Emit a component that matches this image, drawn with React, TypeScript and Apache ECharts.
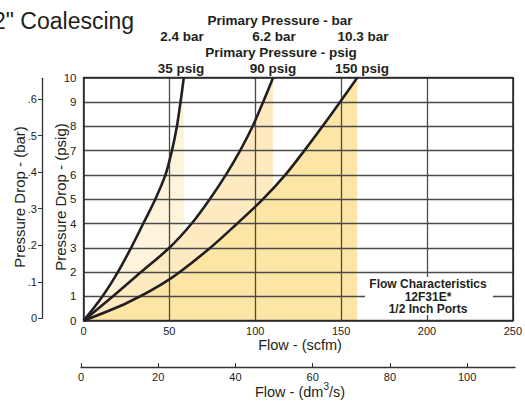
import React, { useEffect, useRef } from "react";
import * as echarts from "echarts";

// Flow (scfm) vs pressure drop (psig) for each primary pressure
const flow35 = [0, 11, 20, 27.7, 34.8, 41.8, 47.7, 51.5, 54.4, 56.5, 58.4];
const drop35 = [0, 1, 2, 3, 4, 5, 6, 7, 8, 9, 10];
const flow90 = [0, 17, 33.5, 50, 63, 73.5, 82.9, 91.2, 98.5, 104.6, 110.4];
const drop90 = [0, 1, 2, 3, 4, 5, 6, 7, 8, 9, 10];
const flow150 = [0, 25.8, 50, 73, 89.5, 104.5, 117.5, 128.6, 139.2, 149.4, 159.4];
const drop150 = [0, 0.75, 1.7, 2.95, 4, 5, 6, 7, 8, 9, 10];

const barLabels = ["2.4 bar", "6.2 bar", "10.3 bar"];
const psigLabels = ["35 psig", "90 psig", "150 psig"];
const barTicks = [0, 0.1, 0.2, 0.3, 0.4, 0.5, 0.6];
const dm3Ticks = [0, 20, 40, 60, 80, 100];
const boxLines = ["Flow Characteristics", "12F31E*", "1/2 Inch Ports"];

const FONT = "'Liberation Sans', Arial, Helvetica, sans-serif";
const INK = "#231f20";
const GRIDC = "#4a4a4a";

export default function App() {
  const ref = useRef<HTMLDivElement>(null);
  useEffect(() => {
    if (!ref.current) return;
    const chart = echarts.init(ref.current, undefined, { renderer: "svg" });
    const pairs = (xs: number[], ys: number[]) => xs.map((x, i) => [x, ys[i]]);
    const d35 = pairs(flow35, drop35);
    const d90 = pairs(flow90, drop90);
    const d150 = pairs(flow150, drop150);
    const fills = ["#fef4dc", "#fdeac0", "#fde5a6"];
    const datas = [d35, d90, d150];

    const areaSeries = datas.map((d, i) => ({
      type: "line",
      xAxisIndex: 0,
      yAxisIndex: 0,
      data: d,
      smooth: 0.3,
      symbol: "none",
      lineStyle: { width: 0 },
      areaStyle: { color: fills[i], opacity: 1 },
      z: 1,
      silent: true,
    }));
    const lineSeries = datas.map((d) => ({
      type: "line",
      xAxisIndex: 0,
      yAxisIndex: 0,
      data: d,
      smooth: 0.3,
      symbol: "none",
      lineStyle: { width: 2.6, color: INK },
      z: 5,
      silent: true,
    }));

    const headerX = [182, 274, 363];
    const headerTexts: any[] = [
      { type: "text", x: 280, y: 20, style: { text: "Primary Pressure - bar", font: `bold 13.5px ${FONT}`, fill: INK, align: "center", verticalAlign: "middle" } },
      { type: "text", x: 281, y: 52, style: { text: "Primary Pressure - psig", font: `bold 13.5px ${FONT}`, fill: INK, align: "center", verticalAlign: "middle" } },
    ];
    barLabels.forEach((t, i) =>
      headerTexts.push({ type: "text", x: headerX[i], y: 36, style: { text: t, font: `bold 13.5px ${FONT}`, fill: INK, align: "center", verticalAlign: "middle" } })
    );
    psigLabels.forEach((t, i) =>
      headerTexts.push({ type: "text", x: headerX[i] - 1, y: 68, style: { text: t, font: `bold 13.5px ${FONT}`, fill: INK, align: "center", verticalAlign: "middle" } })
    );

    chart.setOption({
      animation: false,
      textStyle: { fontFamily: FONT },
      grid: [
        { left: 83.5, right: 11, top: 77.7, bottom: 83.3 },
        { left: 81, right: 10, top: 366, height: 1 },
        { left: 42, width: 1, top: 78.3, bottom: 85.7 },
      ],
      xAxis: [
        {
          type: "value", gridIndex: 0, min: 0, max: 250, interval: 50, z: 3,
          axisLine: { show: true, lineStyle: { color: "#222", width: 1.5 } },
          axisTick: { show: false },
          axisLabel: { fontSize: 11, color: "#222", margin: 5 },
          splitLine: { show: true, lineStyle: { color: GRIDC, width: 1.3 } },
        },
        {
          type: "value", gridIndex: 0, position: "top", min: 0, max: 250, z: 3,
          axisLine: { show: true, onZero: false, lineStyle: { color: "#222", width: 1.5 } },
          axisTick: { show: false }, axisLabel: { show: false }, splitLine: { show: false },
        },
        {
          type: "value", gridIndex: 1, min: 0, max: 112.4,
          axisLine: { show: true, onZero: false, lineStyle: { color: "#333", width: 1.3 } },
          axisTick: { show: true, inside: true, length: 4, lineStyle: { color: "#333" }, customValues: dm3Ticks },
          axisLabel: { fontSize: 11, color: "#222", margin: 4, customValues: dm3Ticks },
          splitLine: { show: false },
        },
        { type: "value", gridIndex: 2, show: false, min: 0, max: 1 },
      ],
      yAxis: [
        {
          type: "value", gridIndex: 0, min: 0, max: 10, interval: 1, z: 3,
          axisLine: { show: true, lineStyle: { color: "#222", width: 1.5 } },
          axisTick: { show: false },
          axisLabel: { fontSize: 11.5, color: "#222", margin: 7 },
          splitLine: { show: true, lineStyle: { color: GRIDC, width: 1.3 } },
        },
        {
          type: "value", gridIndex: 0, position: "right", min: 0, max: 10, z: 3,
          axisLine: { show: true, onZero: false, lineStyle: { color: "#222", width: 1.5 } },
          axisTick: { show: false }, axisLabel: { show: false }, splitLine: { show: false },
        },
        { type: "value", gridIndex: 1, show: false, min: 0, max: 1 },
        {
          type: "value", gridIndex: 2, position: "left", min: 0, max: 0.657,
          axisLine: { show: true, onZero: false, lineStyle: { color: "#333", width: 1.3 } },
          axisTick: { show: true, length: 4, lineStyle: { color: "#333" }, customValues: barTicks },
          axisLabel: {
            fontSize: 11, color: "#222", margin: 5, customValues: barTicks,
            formatter: (v: number) => (v === 0 ? "0" : "." + Math.round(v * 10)),
          },
          splitLine: { show: false },
        },
      ],
      series: [...areaSeries, ...lineSeries],
      graphic: [
        { type: "text", x: -7, y: 21, z: 100, style: { text: '2" Coalescing', font: `23px ${FONT}`, fill: INK, align: "left", verticalAlign: "middle" } },
        ...headerTexts.map((t) => ({ ...t, z: 100 })),
        { type: "rect", z: 100, shape: { x: 365, y: 277, width: 128, height: 38 }, style: { fill: "#fff" } },
        { type: "text", x: 428, y: 296.5, z: 101, style: { text: boxLines.join("\n"), font: `bold 12px ${FONT}`, fill: INK, align: "center", verticalAlign: "middle", lineHeight: 12.5 } },
        { type: "text", x: 300, y: 345, z: 100, style: { text: "Flow - (scfm)", font: `14.5px ${FONT}`, fill: INK, align: "center", verticalAlign: "middle" } },
        {
          type: "text", x: 300, y: 390, z: 100,
          style: {
            text: "{a|Flow - (dm}{s|3}{a|/s)}",
            rich: {
              a: { font: `14.5px ${FONT}`, fill: INK, verticalAlign: "bottom", lineHeight: 18 },
              s: { font: `10px ${FONT}`, fill: INK, verticalAlign: "top", lineHeight: 10 },
            },
            align: "center", verticalAlign: "middle",
          },
        },
        { type: "text", x: 60, y: 197, rotation: Math.PI / 2, z: 100, style: { text: "Pressure Drop - (psig)", font: `15px ${FONT}`, fill: INK, align: "center", verticalAlign: "middle" } },
        { type: "text", x: 19, y: 197, rotation: Math.PI / 2, z: 100, style: { text: "Pressure Drop - (bar)", font: `15px ${FONT}`, fill: INK, align: "center", verticalAlign: "middle" } },
      ],
    });
    return () => chart.dispose();
  }, []);
  return <div ref={ref} style={{ width: 525, height: 404, position: "absolute", left: 0, top: 0, background: "#fff" }} />;
}
